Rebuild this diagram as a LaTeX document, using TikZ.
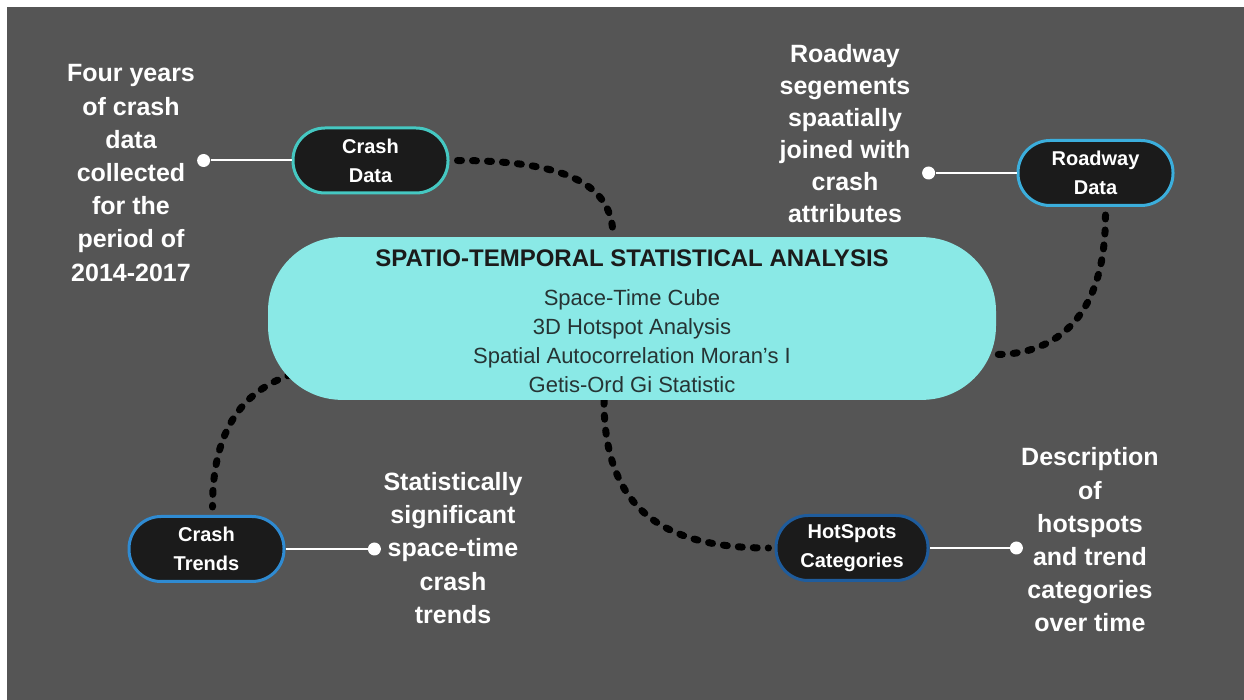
\documentclass[tikz,border=0pt]{standalone}
\usepackage{fontspec}
\setmainfont{Liberation Sans}
\usepackage{xcolor}
\usetikzlibrary{positioning,backgrounds}

\definecolor{bggray}{HTML}{555555}
\definecolor{capcyan}{HTML}{8AE9E6}
\definecolor{nodeblack}{HTML}{1B1B1B}
\definecolor{itemgray}{HTML}{263434}
\definecolor{rimteal}{HTML}{45C8C2}
\definecolor{rimsky}{HTML}{3BAEDC}
\definecolor{rimblue}{HTML}{2F8BD2}
\definecolor{rimnavy}{HTML}{1F5C9C}

\begin{document}
\begin{tikzpicture}[
    x=0.5pt, y=-0.5pt,
    topic/.style={rectangle, rounded corners=16pt, draw, line width=1.5pt, fill=nodeblack, text=white, minimum width=77.5pt, minimum height=32.5pt, align=center, font=\bfseries\fontsize{10}{14.5}\selectfont},
    core/.style={rectangle, rounded corners=37pt, fill=capcyan, minimum width=364pt, minimum height=80.5pt, align=center, text=itemgray, font=\fontsize{11}{14.5}\selectfont},
    remark/.style={align=center, text=white, font=\bfseries\fontsize{12.5}{16.6}\selectfont, inner sep=0pt},
    knob/.style={circle, fill=white, inner sep=0pt, minimum size=6.5pt},
    whiteline/.style={white, line width=1pt},
    dotline/.style={line width=3.5pt, line cap=round, dash pattern=on 2pt off 5.5pt},
]
\useasboundingbox (0,0) rectangle (1244,700);

% Central analysis
\node[core] (core) at (632,318.5) {\rule{0pt}{11.6pt}{\bfseries\fontsize{12}{14.5}\selectfont\color{nodeblack}SPATIO-TEMPORAL STATISTICAL ANALYSIS}\\[5pt]
    Space-Time Cube\\ 3D Hotspot Analysis\\ Spatial Autocorrelation Moran's I\\ Getis-Ord Gi Statistic};

% Topics
\node[topic, draw=rimteal] (crash) at (370.5,160.5) {Crash\\Data};
\node[topic, draw=rimsky] (roadway) at (1095.5,173) {Roadway\\Data};
\node[topic, draw=rimblue] (trends) at (206.5,549) {Crash\\Trends};
\node[topic, draw=rimnavy, minimum width=76pt] (hot) at (852,548) {HotSpots\\Categories};

% Knobs
\node[knob, left=40.5pt of crash] (knobA) {};
\node[knob, left=40.5pt of roadway] (knobB) {};
\node[knob, right=41pt of trends] (knobC) {};
\node[knob, right=40pt of hot] (knobD) {};

% Remarks
\node[remark] (yearsnote) at (131,173) {Four years\\of crash\\data\\collected\\for the\\period of\\2014-2017};
\node[remark, font=\bfseries\fontsize{12.5}{16}\selectfont] (roadnote) at (845,134) {Roadway\\segements\\spaatially\\joined with\\crash\\attributes};
\node[remark] (trendnote) at (453,548) {Statistically\\significant\\space-time\\crash\\trends};
\node[remark] (hotnote) at (1090,540) {Description\\of\\hotspots\\and trend\\categories\\over time};

% Leaders
\draw[whiteline] (knobA) -- (crash);
\draw[whiteline] (knobB) -- (roadway);
\draw[whiteline] (knobC) -- (trends);
\draw[whiteline] (knobD) -- (hot);

% Background and dotted links
\begin{scope}[on background layer]
\fill[white] (0,0) rectangle (1244,700);
\fill[bggray] (7,7) rectangle (1244,700);
\draw[dotline, shorten <=4pt] (crash.east) .. controls +(130,0) and +(0,-45) .. ([xshift=-9.5pt]core.north);
\draw[dotline, shorten <=4pt] ([xshift=5pt]roadway.south) .. controls +(0,120) and +(50,0) .. ([yshift=-18pt]core.east);
\draw[dotline, shorten >=4pt] ([xshift=12pt,yshift=-28pt]core.west) .. controls +(-60,20) and +(0,-70) .. ([xshift=3pt]trends.north);
\draw[dotline, shorten >=3pt] ([xshift=-14pt]core.south) .. controls +(0,110) and +(-110,0) .. (hot.west);
\end{scope}

\end{tikzpicture}
\end{document}
